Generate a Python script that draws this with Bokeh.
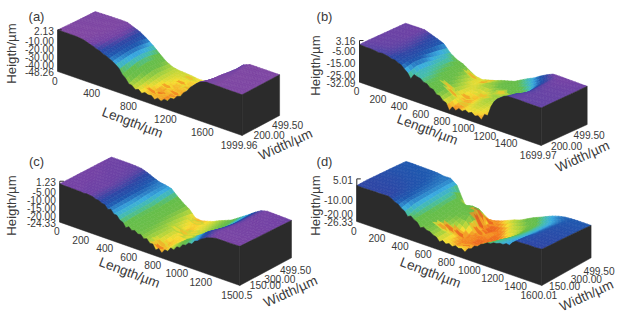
import math
from bokeh.plotting import figure
from bokeh.models import ColumnDataSource
from bokeh.core.properties import value
from bokeh.embed import file_html
from bokeh.resources import INLINE

widths = [0, 100, 200, 300, 400, 499.5]

# Panel (a)
lengths_a = [70 * i for i in range(29)] + [1999.96]
a_w0 = [2.0,2.0,2.0,1.8,0.9,-1.9,-4.7,-8,-11.2,-15.8,-24.9,-33.3,-37.4,-39.4,-38.6,-41.5,-40.8,-37.8,-33,-27,-18,-8.5,-1.5,1.2,1.2,1.2,1.1,1.0,1.0,1.0]
a_w1 = [1.5,1.5,1.6,1.5,1.2,-0.4,-3,-6.3,-9.8,-14.2,-22,-30.5,-36.2,-40.3,-43.5,-41,-44,-40.5,-36,-30.5,-23,-13,-4.5,0.8,1.2,1.2,1.1,1.1,1,1]
a_w2 = [1,1.2,1.3,1.3,1.2,0.4,-2.2,-5.2,-9,-13,-19.5,-27.5,-34,-38,-42.5,-39.8,-43,-41.8,-38.5,-33.5,-26,-17,-8,0,1.2,1.2,1.2,1.1,1,1]
a_w3 = [.6,.8,1,1.1,1,.6,-1.5,-4.6,-8.5,-13,-19,-26,-32.5,-37,-39,-41.5,-39.5,-42,-39.5,-35,-28,-19.5,-10,-1.5,1,1.2,1.2,1.1,1,1]
a_w4 = [.3,.5,.7,.8,.8,.6,-1.8,-5,-9.2,-14.5,-21,-28,-33.5,-36.5,-38,-38.5,-41,-39,-38,-34.5,-29,-21.5,-12,-2.5,.8,1,1,1,1,1]
a_w5 = [0,.2,.4,.5,.6,.4,-2.8,-6,-11,-17,-24,-30.5,-34.5,-36,-36.5,-37.2,-38.4,-38,-36.5,-33,-28,-21,-12,-2,1,1,1,1,1,1]
a_edge_mid = [2,2,1.9,1.4,-.4,-3,-6,-9.2,-13,-19,-28,-34,-36,-37,-38,-38.5,-37,-33,-28,-21,-12,-4.5,0,1.2,1.2,1.2,1.05,1,1]
a_spot_l = [930,1100,1040,1050,1010,1180,1250,1140,980]
a_spot_w = [110,208,369,463,138,120,230,330,250]
a_spot_h = [-44,-44,-43,-41,-45,-43,-42,-42,-43]

# Panel (b)
lengths_b = [60 * i for i in range(29)] + [1699.97]
b_w0 = [-.2,-.6,-.7,-1.4,-1.3,-2.9,-4.2,-7.6,-14.1,-10.4,-13.2,-16,-19.8,-23,-29.5,-27.7,-26.4,-25.9,-26.7,-28,-22.5,-8.7,-3.6,-.5,-.2,-.2,-.3,-.3,-.3,-.3]
b_w1 = [0,-.1,-.2,-.3,-.8,-2,-3.2,-5.5,-10,-11,-13.5,-15.5,-18.5,-22,-26.5,-28,-25,-23.5,-24.5,-26.5,-26,-18,-8,-2,-.2,-.2,-.2,-.2,-.2,-.2]
b_w2 = [0,0,-.1,-.2,-.7,-1.8,-3.5,-5.8,-10.5,-12.5,-15,-18,-21,-26,-28,-26.5,-24,-22,-23,-25.5,-24.5,-20,-12,-5.5,-1,-.2,-.1,-.1,-.1,-.1]
b_w3 = [0,0,0,0,-.8,-2.2,-4.2,-8.5,-11.5,-13.5,-17,-20,-23,-25,-24.5,-27,-23,-21.5,-21,-20.5,-19,-15.5,-10,-4.5,-.5,0,0,0,0,0]
b_w4 = [0,0,.1,0,-1.2,-3,-4.8,-10,-10.5,-15.5,-19,-22.5,-25.5,-24,-21.5,-20.5,-18.5,-17,-16,-14.5,-12.5,-10,-6.5,-3,0,.3,.2,.2,.1,.1]
b_w5 = [0,.1,.2,.1,-1.8,-3.8,-6,-12,-15.5,-17.5,-21,-24.3,-25,-23.5,-22,-20,-18.5,-17,-14,-11,-8.5,-5,-2,.5,.6,.5,.4,.3,.2,.2]
b_edge_mid = [-.3,-.5,-.9,-1,-1.8,-3,-5.3,-10,-9.5,-11,-13.5,-16.5,-20,-24,-25.5,-25,-24.5,-24.5,-25.5,-22.5,-14,-5.5,-1.5,-.3,-.2,-.25,-.3,-.3,-.3]
b_spot_l = [759,811,700,652,771,800,900,960,1040,880]
b_spot_w = [133,218,160,470,455,490,300,250,330,120]
b_spot_h = [-28,-28,-27,-27.5,-28,-27,-27,-26.5,-26.5,-27]

# Panel (c)
lengths_c = [50 * i for i in range(29)] + [1500.5]
c_w0 = [-.4,-.6,-.7,-.8,-1,-.9,-2.1,-3.3,-5.7,-7.3,-9.8,-13.3,-13.7,-14.6,-16.2,-17.7,-20.6,-21.2,-18.7,-16.6,-13.9,-11,-9,-5.8,-2.9,-1.2,-.1,-.1,-.1,.1]
c_w1 = [-.5,-.7,-.8,-.9,-1,-1,-2,-3.5,-5.5,-7.5,-9.5,-12,-13,-14.5,-16,-18.5,-21,-20,-17.5,-14.5,-11.5,-9,-6.5,-3.5,-1.5,-.5,-.2,-.2,-.2,-.1]
c_w2 = [-.6,-.7,-.8,-.9,-1,-1,-1.8,-3.2,-5.2,-7.5,-9.5,-11.8,-13.5,-15,-16.5,-18,-19.5,-20,-19,-17,-14.5,-11.5,-9,-5.5,-3,-1,-.4,-.3,-.3,-.3]
c_w3 = [-.7,-.8,-.9,-1,-1,-1.2,-2,-3.4,-5,-6.5,-9.5,-12,-14,-15.5,-17.5,-19,-21,-19.5,-18.5,-16.8,-15,-12.5,-10,-7,-4,-1.5,-.5,-.4,-.5,-.5]
c_w4 = [-.8,-.9,-1,-1,-1.1,-1.3,-2.4,-4,-5.5,-6.2,-8,-11.5,-14,-16,-18.5,-20,-20,-19,-17.8,-16,-14.5,-12,-9.5,-7,-4,-1.5,-.5,-.5,-.7,-.8]
c_w5 = [-1,-1,-1,-1,-1.2,-1.5,-2.8,-4.5,-6,-6.6,-7.5,-11,-14,-16.5,-20.5,-21,-20,-18.8,-17,-15.5,-14,-11.5,-9,-6.5,-3.8,-1.5,-.6,-.7,-.8,-1]
c_edge_mid = [-.5,-.5,-.6,-.7,-.7,-1.2,-2.2,-3.6,-5,-7.5,-10.5,-12,-13,-14.2,-15.5,-17.5,-19,-18.5,-16,-14,-11.5,-9,-6.5,-4,-1.8,-.6,-.1,-.1,0]
c_spot_l = [783,740,840,756,800,780,860]
c_spot_w = [290,270,320,450,40,80,250]
c_spot_h = [-20.5,-19.5,-20,-20,-22.5,-21,-19.5]

# Panel (d)
lengths_d = [55 * i for i in range(29)] + [1600.01]
d_w0 = [.1,0,.1,.2,.2,.3,-2.4,-5.2,-9.7,-10.4,-14.8,-15,-16.8,-20.2,-20.2,-20.5,-20.2,-21.2,-17.3,-14,-10.6,-8.7,-7,-6,-5,-.4,-.3,.1,-.1,.4]
d_w1 = [0,0,-.2,-.2,-.3,-.5,-2,-3.5,-7,-10,-13,-15,-17,-20,-22,-24,-22,-24,-21,-17,-13,-10,-8,-6.5,-5,-1.5,-.8,-.4,-.4,-.3]
d_w2 = [-.6,-.7,-.6,-.8,-1,-1.5,-2.5,-3.8,-6.5,-9.5,-12.5,-14.5,-17,-21,-24,-22.5,-25,-23,-24,-20,-16,-12.5,-9.5,-7.5,-5.5,-3,-1,-.8,-.7,-.6]
d_w3 = [-1.2,-1.4,-1.4,-1.6,-1.8,-2,-2.8,-3.8,-6,-9,-11,-13,-14.5,-13.5,-20,-24.5,-22,-24.8,-23,-21,-18,-14,-10.5,-8,-6,-3.5,-1.5,-1.2,-1.2,-1.2]
d_w4 = [-1.8,-2,-2,-2.2,-2.3,-2.6,-3.2,-4,-6,-8.5,-12,-13,-12,-12.5,-23,-25,-24,-22.5,-19.5,-18.5,-16.5,-13,-10.5,-8,-6,-4,-2.2,-1.8,-1.8,-1.8]
d_w5 = [-2.5,-2.5,-2.6,-2.7,-2.8,-3,-3.8,-3.6,-7,-17,-24.6,-25,-25.5,-24.5,-23.5,-22,-20,-18,-16.5,-14,-11.5,-9.6,-7.5,-5.5,-4,-3,-2.7,-2.5,-2.5,-2.5]
d_edge_mid = [0,0,.1,.1,.2,-.8,-3.2,-6.5,-8.5,-11.5,-13.5,-15.2,-17.5,-18.5,-19,-19,-19.5,-18,-14.5,-11.5,-8.8,-7.2,-6,-4.5,-2.2,-.3,-.1,0,.1]
d_spot_l = [756,720,729,668,859,763,800,640]
d_spot_w = [357,400,186,155,100,450,300,120]
d_spot_h = [-25.5,-25,-25,-24.5,-24.5,-25,-24.5,-23]

# Tick labels
h_ticks_a = [2.13, -10, -20, -30, -40, -48.26]
h_ticks_b = [3.16, -5, -15, -25, -32.09]
h_ticks_c = [1.23, -5, -10, -15, -20, -24.33]
h_ticks_d = [5.01, -10, -20, -26.33]
l_ticks_a = [0, 400, 800, 1200, 1600, 1999.96]
l_ticks_b = [0, 200, 400, 600, 800, 1000, 1200, 1400, 1699.97]
l_ticks_c = [0, 200, 400, 600, 800, 1000, 1200, 1500.5]
l_ticks_d = [0, 200, 400, 600, 800, 1000, 1200, 1400, 1600.01]
w_ticks_a = [200, 499.5]
w_ticks_b = [200, 499.5]
w_ticks_c = [150, 300, 499.5]
w_ticks_d = [150, 300, 499.5]

STOPS = [(0.00,(222,50,30)),(0.09,(243,125,32)),(0.18,(246,222,50)),(0.27,(175,212,60)),
         (0.38,(108,190,72)),(0.50,(100,190,75)),(0.58,(70,190,165)),(0.66,(58,172,225)),(0.76,(30,88,175)),
         (0.84,(45,70,165)),(0.92,(115,66,165)),(1.00,(130,72,162))]
BLOTCH_SHAPE = [1,.7,1.15,.8,1.05,.65,1.2,.85,.95,.7]

def colour(t):
    t = min(1, max(0, t))
    for (a, ca), (b, cb) in zip(STOPS, STOPS[1:]):
        if t <= b:
            f = (t - a) / (b - a)
            return "#%02x%02x%02x" % tuple(round(u + (v - u) * f) for u, v in zip(ca, cb))
    return "#8248a2"

panels = [
 dict(tag="(a)", tagxy=(36,16), o=(57.3,71), lv=(184.3,64), wv=(37.5,-20), s=0.827, L=lengths_a,
      H=[a_w0,a_w1,a_w2,a_w3,a_w4,a_w5], mid=a_edge_mid, spots=(a_spot_l,a_spot_w,a_spot_h),
      ht=h_ticks_a, lt=l_ticks_a, wt=w_ticks_a,
      lf=["0","400","800","1200","1600","1999.96"],
      hxy=(11,53), lxy=(132,122), wxy=(285,144), wo=[(12,8),(8,9)]),
 dict(tag="(b)", tagxy=(324,16), o=(359,81.7), lv=(181.7,63.3), wv=(46,-21), s=1.182, L=lengths_b,
      H=[b_w0,b_w1,b_w2,b_w3,b_w4,b_w5], mid=b_edge_mid, spots=(b_spot_l,b_spot_w,b_spot_h),
      ht=h_ticks_b, lt=l_ticks_b, wt=w_ticks_b,
      lf=["0","200","400","600","800","1000","1200","1400","1699.97"],
      hxy=(315,65), lxy=(427,129), wxy=(582,156), wo=[(7,9),(2,10)]),
 dict(tag="(c)", tagxy=(36,161), o=(59.3,221.7), lv=(180,63.3), wv=(51.7,-27.7), s=1.603, L=lengths_c,
      H=[c_w0,c_w1,c_w2,c_w3,c_w4,c_w5], mid=c_edge_mid, spots=(c_spot_l,c_spot_w,c_spot_h),
      ht=h_ticks_c, lt=l_ticks_c, wt=w_ticks_c,
      lf=["0","200","400","600","800","1000","1200","1500.5"],
      hxy=(11,205), lxy=(129,272), wxy=(290,291), wo=[(10,8),(9,10),(4,12)]),
 dict(tag="(d)", tagxy=(324,161), o=(356.3,221), lv=(185,64), wv=(49.3,-27.7), s=1.36, L=lengths_d,
      H=[d_w0,d_w1,d_w2,d_w3,d_w4,d_w5], mid=d_edge_mid, spots=(d_spot_l,d_spot_w,d_spot_h),
      ht=h_ticks_d, lt=l_ticks_d, wt=w_ticks_d,
      lf=["0","200","400","600","800","1000","1200","1400","1600.01"],
      hxy=(315,205), lxy=(430,272), wxy=(586,295), wo=[(8,9),(15,10),(8,13)]),
]

p = figure(width=618, height=319, x_range=(0,618), y_range=(319,0), toolbar_location=None,
           output_backend="svg", min_border=0, outline_line_color=None, background_fill_color="white")
p.xaxis.visible = False
p.yaxis.visible = False
p.grid.visible = False

FONT = value("Liberation Sans")
INK = "#3a3a3a"
BLACK = "#2b2b2b"
SUB_L, SUB_W = 2, 3

def txt(x, y, s, size, angle=0, align="center", color=INK):
    p.text(x=[x], y=[y], text=[s], angle=[angle], text_font=FONT, text_font_size=size,
           text_align=align, text_baseline="middle", text_color=color)

for P in panels:
    L, H, o, lv, wv, s = P["L"], P["H"], P["o"], P["lv"], P["wv"], P["s"]
    hmin, hmax = P["ht"][-1], P["ht"][0]
    lmax = L[-1]; wmax = widths[-1]

    def proj(l, w, h):
        return (o[0] + lv[0]*l/lmax + wv[0]*w/wmax,
                o[1] + lv[1]*l/lmax + wv[1]*w/wmax - (h - hmin)*s)

    def surf(l, w):
        l = min(max(l, 0), lmax); w = min(max(w, 0), wmax)
        i = max(k for k in range(len(L)-1) if L[k] <= l)
        j = max(k for k in range(len(widths)-1) if widths[k] <= w)
        fi = (l-L[i])/(L[i+1]-L[i]); fj = (w-widths[j])/(widths[j+1]-widths[j])
        a = H[j][i]*(1-fi)+H[j][i+1]*fi
        b = H[j+1][i]*(1-fi)+H[j+1][i+1]*fi
        return a*(1-fj)+b*fj

    xs, ys, cs = [], [], []
    for j in range(len(widths)-2, -1, -1):
        for sj in range(SUB_W-1, -1, -1):
            for i in range(len(L)-1):
                for si in range(SUB_L):
                    def node(fi, fj):
                        a = H[j][i]*(1-fi)+H[j][i+1]*fi
                        b = H[j+1][i]*(1-fi)+H[j+1][i+1]*fi
                        h = a*(1-fj)+b*fj
                        l = L[i]+(L[i+1]-L[i])*fi
                        w = widths[j]+(widths[j+1]-widths[j])*fj
                        return proj(l, w, h), h
                    f0, f1 = si/SUB_L, (si+1)/SUB_L
                    g0, g1 = sj/SUB_W, (sj+1)/SUB_W
                    q = [node(f0,g0), node(f1,g0), node(f1,g1), node(f0,g1)]
                    xs.append([c[0][0] for c in q]); ys.append([c[0][1] for c in q])
                    cs.append(colour((sum(c[1] for c in q)/4 - hmin)/(hmax-hmin)))
    src = ColumnDataSource(dict(xs=xs, ys=ys, c=cs))
    p.patches("xs", "ys", source=src, fill_color="c", line_color="c", line_width=0.6)

    # small deeper blotches on the valley floor
    sx, sy, sc = [], [], []
    span = hmax - hmin
    for scale, lift in [(1.45, 0.08), (0.8, 0.0)]:
        for sl, sw, sh in sorted(zip(*P["spots"]), key=lambda r: -r[1]):
            px, py = [], []
            for k, r in enumerate(BLOTCH_SHAPE):
                a = 2*math.pi*k/len(BLOTCH_SHAPE)
                l = sl + scale*r*0.032*lmax*math.cos(a)
                w = sw + scale*r*0.045*wmax*math.sin(a)
                l = min(max(l, 0), lmax); w = min(max(w, 0), wmax)
                xy = proj(l, w, surf(l, w))
                px.append(xy[0]); py.append(xy[1])
            sx.append(px); sy.append(py)
            sc.append(colour((sh - hmin)/span + lift))
    p.patches(sx, sy, fill_color=sc, line_color=None, fill_alpha=0.7)

    # front and right black faces, silhouette at twice the grid's resolution
    edge = []
    for i in range(len(L)-1):
        edge.append(proj(L[i], 0, H[0][i]))
        edge.append(proj((L[i]+L[i+1])/2, 0, P["mid"][i]))
    edge.append(proj(L[-1], 0, H[0][-1]))
    fx = [e[0] for e in edge]; fy = [e[1] for e in edge]
    bl = proj(0, 0, hmin); br = proj(lmax, 0, hmin)
    p.patch(fx + [br[0], bl[0]], fy + [br[1], bl[1]], fill_color=BLACK, line_color=BLACK, line_width=0.5)
    rx = [proj(lmax, w, H[j][-1])[0] for j, w in enumerate(widths)]
    ry = [proj(lmax, w, H[j][-1])[1] for j, w in enumerate(widths)]
    brb = proj(lmax, wmax, hmin)
    p.patch(rx + [brb[0], br[0]], ry + [brb[1], br[1]], fill_color=BLACK, line_color=BLACK, line_width=0.5)

    # height axis
    top = proj(0, 0, hmax)
    p.line([bl[0], top[0]], [bl[1], top[1]], line_color=BLACK, line_width=1)
    p.line([top[0], top[0]+4], [top[1], top[1]], line_color=BLACK, line_width=1)

    for h in P["ht"]:
        lab = f"{h:.2f}"
        xy = proj(0, 0, h)
        txt(xy[0]-4, xy[1]+0.8, lab, "10.2px", align="right")
    for l, lab in zip(P["lt"], P["lf"]):
        xy = proj(l, 0, hmin)
        txt(xy[0]-3, xy[1]+9, lab, "10.2px")
    for w, (dx, dy) in zip(P["wt"], P["wo"]):
        xy = proj(lmax, w, hmin)
        txt(xy[0]+dx, xy[1]+dy, f"{w:.2f}", "10.2px")

    txt(*P["tagxy"], P["tag"], "13px")
    txt(*P["hxy"], "Heigth/µm", "13.2px", angle=1.5708)
    txt(*P["lxy"], "Length/µm", "13.5px", angle=-0.36)
    txt(*P["wxy"], "Width/µm", "13.5px", angle=0.43)

open("out.html", "w").write(file_html(p, INLINE))
